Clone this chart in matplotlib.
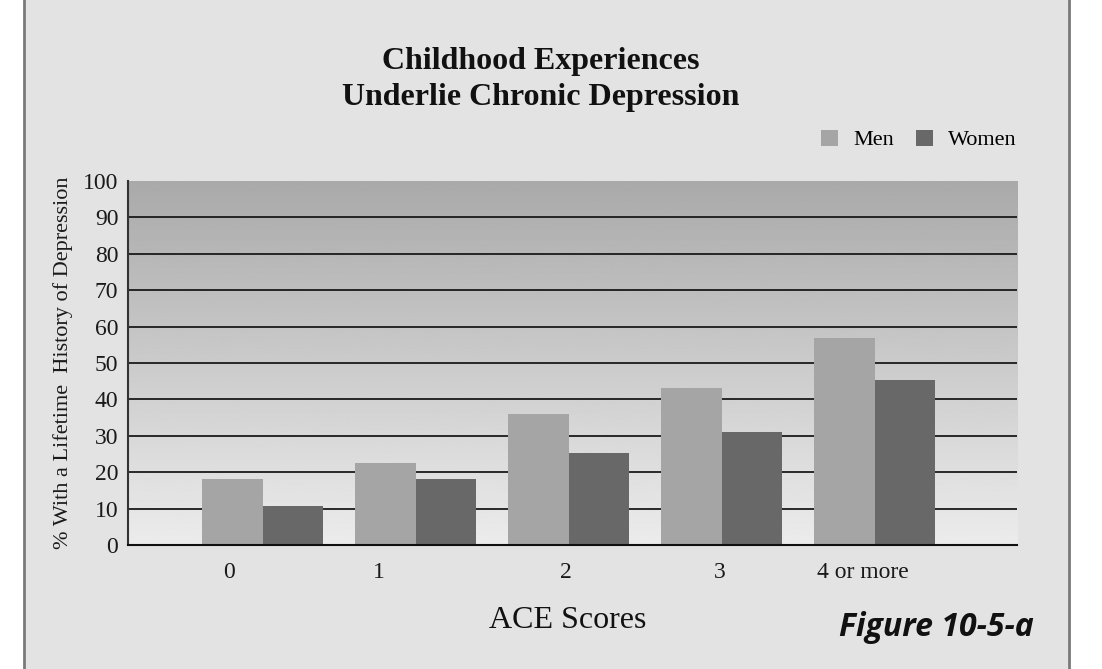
import numpy as np
import matplotlib.pyplot as plt
from matplotlib.patches import Rectangle

# data
categories = ["0", "1", "2", "3", "4 or more"]
men = [18, 22.4, 36, 43.2, 57]
women = [10.8, 18, 25.3, 31, 45.4]
y_ticks = [0, 10, 20, 30, 40, 50, 60, 70, 80, 90, 100]

# label positions in the original are not centred on the groups
label_pos = [-0.22, 0.76, 1.98, 2.99, 3.92]

MEN_COLOR = "#a5a5a5"
WOMEN_COLOR = "#686868"
PANEL = "#e3e3e3"

serif = ["Liberation Serif", "DejaVu Serif"]

fig = plt.figure(figsize=(11.02, 6.69), dpi=100)
fig.patch.set_facecolor("white")

# grey panel with side borders
fig.patches.append(Rectangle((24 / 1102, 0), (1069 - 24) / 1102, 1,
                             transform=fig.transFigure, facecolor=PANEL,
                             edgecolor="none", zorder=-2))
for xb in (24, 1069):
    fig.lines.append(plt.Line2D([xb / 1102, xb / 1102], [0, 1], transform=fig.transFigure,
                                color="#7a7a7a", lw=2, zorder=-1))

ax = fig.add_axes([128 / 1102, (669 - 545) / 669, (1017 - 128) / 1102, (545 - 181) / 669])
ax.set_facecolor("none")
ax.set_zorder(1)

x = np.arange(len(categories))
w = 0.395
xlim = (-0.88, 4.93)

# vertical gradient background
grad = np.linspace(0.925, 0.665, 256).reshape(-1, 1)
ax.imshow(grad, extent=(xlim[0], xlim[1], 0, 100), aspect="auto", cmap="gray",
          vmin=0, vmax=1, origin="lower", zorder=0)

for yv in y_ticks[1:-1]:
    ax.axhline(yv, color="#1a1a1a", lw=1.3, zorder=1)

ax.bar(x - w / 2, men, width=w, color=MEN_COLOR, zorder=2, label="Men")
ax.bar(x + w / 2, women, width=w, color=WOMEN_COLOR, zorder=2, label="Women")

ax.set_xlim(*xlim)
ax.set_ylim(0, 100)

for s in ("top", "right"):
    ax.spines[s].set_visible(False)
ax.spines["left"].set_color("#333333")
ax.spines["left"].set_linewidth(1.5)
ax.spines["bottom"].set_color("#111111")
ax.spines["bottom"].set_linewidth(1.5)

ax.set_yticks(y_ticks)
ax.set_yticklabels([str(v) for v in y_ticks], family=serif, fontsize=17, color="#1a1a1a")
ax.set_xticks(label_pos)
ax.set_xticklabels(categories, family=serif, fontsize=17, color="#1a1a1a")
ax.tick_params(axis="both", length=0)
ax.tick_params(axis="y", pad=7)
ax.tick_params(axis="x", pad=12)

ax.set_ylabel("% With a Lifetime  History of Depression", family=serif, fontsize=16,
              color="#1a1a1a", labelpad=7)

fig.text(541 / 1102, 1 - 61 / 669, "Childhood Experiences", ha="center", va="center",
         family=serif, fontsize=23, fontweight="bold", color="#111111")
fig.text(541 / 1102, 1 - 97 / 669, "Underlie Chronic Depression", ha="center", va="center",
         family=serif, fontsize=23, fontweight="bold", color="#111111")

fig.text(568 / 1102, 1 - 621 / 669, "ACE Scores", ha="center", va="center",
         family=serif, fontsize=23, color="#111111")
fig.text(1034 / 1102, 1 - 627 / 669, "Figure 10-5-a", ha="right", va="center",
         family=["Open Sans", "DejaVu Sans"], fontsize=23, fontweight="bold",
         fontstyle="italic", color="#111111")

leg = ax.legend(loc="center right", bbox_to_anchor=(1.01, 1 + 41 / 364), ncol=2,
                frameon=False, prop={"family": serif, "size": 16}, handlelength=0.75,
                handleheight=0.75, handletextpad=0.7, columnspacing=1.0, borderaxespad=0)

fig.savefig("out.png", dpi=100)
